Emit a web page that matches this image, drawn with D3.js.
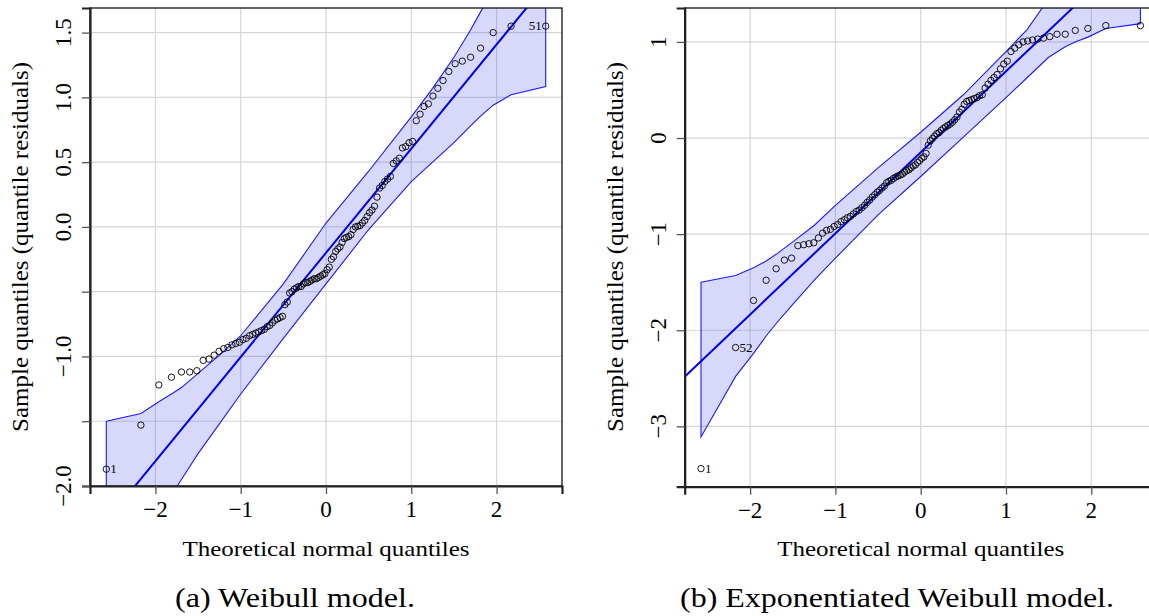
<!DOCTYPE html>
<html>
<head>
<meta charset="utf-8">
<script src="https://cdn.jsdelivr.net/npm/d3@7"></script>
<style>
  body { margin: 0; background: #fff; }
  svg { display: block; }
</style>
</head>
<body>
<svg id="chart" width="1149" height="616"></svg>
<script>
// Theoretical normal quantiles for n = 100 (shared by both panels)
const theoreticalQuantiles = [
  -2.576,-2.170,-1.960,-1.812,-1.695,-1.598,-1.514,-1.440,-1.372,-1.311,
  -1.254,-1.200,-1.150,-1.103,-1.058,-1.015,-0.974,-0.935,-0.896,-0.860,
  -0.824,-0.789,-0.755,-0.722,-0.690,-0.659,-0.628,-0.598,-0.568,-0.539,
  -0.510,-0.482,-0.454,-0.426,-0.399,-0.372,-0.345,-0.319,-0.292,-0.266,
  -0.240,-0.215,-0.189,-0.164,-0.138,-0.113,-0.088,-0.063,-0.038,-0.013,
   0.013, 0.038, 0.063, 0.088, 0.113, 0.138, 0.164, 0.189, 0.215, 0.240,
   0.266, 0.292, 0.319, 0.345, 0.372, 0.399, 0.426, 0.454, 0.482, 0.510,
   0.539, 0.568, 0.598, 0.628, 0.659, 0.690, 0.722, 0.755, 0.789, 0.824,
   0.860, 0.896, 0.935, 0.974, 1.015, 1.058, 1.103, 1.150, 1.200, 1.254,
   1.311, 1.372, 1.440, 1.514, 1.598, 1.695, 1.812, 1.960, 2.170, 2.576
];

// Sorted quantile residuals, Weibull model
const weibullResiduals = [
  -1.87,-1.53,-1.22,-1.16,-1.12,-1.12,-1.11,-1.03,-1.02,-0.99,
  -0.96,-0.94,-0.93,-0.91,-0.90,-0.89,-0.87,-0.86,-0.84,-0.83,
  -0.82,-0.81,-0.80,-0.79,-0.77,-0.76,-0.74,-0.72,-0.71,-0.70,
  -0.69,-0.60,-0.58,-0.51,-0.50,-0.48,-0.47,-0.46,-0.46,-0.44,
  -0.43,-0.43,-0.42,-0.41,-0.40,-0.40,-0.39,-0.38,-0.37,-0.36,
  -0.33,-0.31,-0.25,-0.23,-0.19,-0.17,-0.155,-0.12,-0.09,-0.08,
  -0.075,-0.06,-0.02,0.00,0.005,0.01,0.03,0.05,0.08,0.11,
   0.13,0.16,0.23,0.30,0.32,0.35,0.37,0.39,0.49,0.51,
   0.53,0.61,0.62,0.65,0.66,0.82,0.87,0.93,0.95,1.01,
   1.07,1.13,1.20,1.26,1.28,1.31,1.38,1.50,1.55,1.55
];

// Sorted quantile residuals, exponentiated Weibull model
const expWeibullResiduals = [
  -3.44,-2.18,-1.69,-1.48,-1.36,-1.27,-1.25,-1.12,-1.11,-1.10,
  -1.09,-1.04,-0.99,-0.96,-0.95,-0.92,-0.90,-0.87,-0.85,-0.83,
  -0.815,-0.79,-0.765,-0.75,-0.725,-0.70,-0.67,-0.645,-0.615,-0.59,
  -0.565,-0.545,-0.52,-0.50,-0.465,-0.45,-0.44,-0.42,-0.405,-0.395,
  -0.385,-0.375,-0.355,-0.34,-0.33,-0.31,-0.29,-0.28,-0.255,-0.235,
  -0.21,-0.195,-0.16,-0.075,-0.03,-0.005,0.02,0.045,0.055,0.08,
   0.10,0.115,0.13,0.145,0.165,0.19,0.22,0.27,0.30,0.35,
   0.38,0.39,0.40,0.41,0.42,0.44,0.45,0.52,0.56,0.60,
   0.63,0.66,0.72,0.77,0.80,0.90,0.935,0.97,1.00,1.01,
   1.02,1.03,1.04,1.055,1.08,1.08,1.12,1.14,1.17,1.17
];

// Confidence envelope, evaluated at these theoretical quantiles
const bandQuantiles = [-2.576,-2.170,-1.960,-1.812,-1.695,-1.500,-1.250,-1.000,-0.500,0.000,
                        0.500, 1.000, 1.250, 1.500, 1.695, 1.812, 1.960, 2.170, 2.576];
const weibullBandUpper = [-1.50,-1.44,-1.35,-1.29,-1.24,-1.13,-0.99,-0.84,-0.44,0.03,
                           0.43,0.85,1.07,1.31,1.52,1.66,1.83,2.10,2.65];
const weibullBandLower = [-2.95,-2.45,-2.23,-2.07,-1.95,-1.75,-1.52,-1.29,-0.86,-0.44,
                          -0.02,0.35,0.50,0.65,0.78,0.855,0.94,1.02,1.083];
const expBandUpper = [-1.50,-1.43,-1.35,-1.28,-1.21,-1.08,-0.91,-0.70,-0.31,0.06,
                       0.45,0.90,1.13,1.45,1.68,1.83,2.00,2.30,2.80];
const expBandLower = [-3.11,-2.48,-2.24,-2.06,-1.93,-1.73,-1.48,-1.25,-0.80,-0.40,
                       0.01,0.42,0.63,0.84,0.95,1.00,1.05,1.14,1.19];

// Reference lines: [intercept, slope]
const weibullLine = [-0.200, 0.804];
const expWeibullLine = [-0.149, 0.8435];

// Axis ticks
const xTicks = [-2, -1, 0, 1, 2];
const xTickLabels = ["\u22122", "\u22121", "0", "1", "2"];
const weibullYTicks = [-2.0, -1.5, -1.0, -0.5, 0.0, 0.5, 1.0, 1.5];
const weibullYTickLabels = ["\u22122.0", "", "\u22121.0", "", "0.0", "0.5", "1.0", "1.5"];
const expYTicks = [-3, -2, -1, 0, 1];
const expYTickLabels = ["\u22123", "\u22122", "\u22121", "0", "1"];

// Point labels: [index, text, side]
const weibullIds = [[0, "1", "right"], [99, "51", "left"]];
const expWeibullIds = [[0, "1", "right"], [1, "52", "right"]];

const FONT = "'Liberation Serif', 'Times New Roman', Times, serif";
const svg = d3.select("#chart");

function label(sel) {
  return sel.style("font-family", FONT).attr("fill", "#000");
}

function drawPanel(cfg) {
  const x = d3.scaleLinear().domain([-2.767, 2.767]).range([cfg.left, cfg.left + 472]);
  const y = d3.scaleLinear().domain(cfg.yDomain).range([cfg.bottom, cfg.top]);
  const g = svg.append("g");
  const clipId = "clip-" + cfg.name;
  svg.append("clipPath").attr("id", clipId)
    .append("rect")
    .attr("x", cfg.left).attr("y", cfg.top)
    .attr("width", 472).attr("height", cfg.bottom - cfg.top);

  // grid
  const grid = g.append("g").attr("stroke", "#d6d6d6").attr("stroke-width", 1.2);
  grid.selectAll("line.v").data(xTicks).join("line")
    .attr("x1", d => x(d)).attr("x2", d => x(d))
    .attr("y1", cfg.top).attr("y2", cfg.bottom);
  grid.selectAll("line.h").data(cfg.yTicks).join("line")
    .attr("y1", d => y(d)).attr("y2", d => y(d))
    .attr("x1", cfg.left).attr("x2", cfg.left + 472);

  const inner = g.append("g").attr("clip-path", `url(#${clipId})`);

  // envelope
  const bandData = bandQuantiles.map((q, i) => ({ q, lo: cfg.lower[i], hi: cfg.upper[i] }));
  const area = d3.area().x(d => x(d.q)).y0(d => y(d.lo)).y1(d => y(d.hi));
  inner.append("path").datum(bandData)
    .attr("d", area)
    .attr("fill", "rgba(60,60,230,0.2)")
    .attr("stroke", "#1a1aff")
    .attr("stroke-width", 1.1);

  // reference line
  const xs = x.domain();
  const line = d3.line().x(d => x(d)).y(d => y(cfg.line[0] + cfg.line[1] * d));
  inner.append("path").datum(xs)
    .attr("d", line)
    .attr("fill", "none")
    .attr("stroke", "#0000ee")
    .attr("stroke-width", 2);

  // points
  const pts = theoreticalQuantiles.map((q, i) => ({ q, r: cfg.resid[i] }));
  inner.selectAll("circle").data(pts).join("circle")
    .attr("cx", d => x(d.q)).attr("cy", d => y(d.r))
    .attr("r", 3.2)
    .attr("fill", "none")
    .attr("stroke", "#000")
    .attr("stroke-width", 0.9);

  // identified points
  g.selectAll("text.id").data(cfg.ids).join("text")
    .attr("x", d => x(theoreticalQuantiles[d[0]]) + (d[2] === "right" ? 4 : -4))
    .attr("y", d => y(cfg.resid[d[0]]) + 4)
    .attr("text-anchor", d => d[2] === "right" ? "start" : "end")
    .attr("font-size", 13)
    .call(label)
    .text(d => d[1]);

  // box
  g.append("rect")
    .attr("x", cfg.left).attr("y", cfg.top)
    .attr("width", 472).attr("height", cfg.bottom - cfg.top)
    .attr("fill", "none").attr("stroke", "#111").attr("stroke-width", 1.3);

  // axes (ticks only; labels drawn rotated / separately)
  const xAxis = d3.axisBottom(x).tickValues(xTicks).tickSize(8).tickFormat("");
  const xa = g.append("g").attr("transform", `translate(0,${cfg.bottom})`).call(xAxis);
  xa.select(".domain").attr("stroke", "#222").attr("stroke-width", 2.2);
  xa.selectAll(".tick line").attr("stroke", "#555").attr("stroke-width", 1.3);

  const yAxis = d3.axisLeft(y).tickValues(cfg.yTicks).tickSize(8).tickFormat("");
  const ya = g.append("g").attr("transform", `translate(${cfg.left},0)`).call(yAxis);
  ya.select(".domain").attr("stroke", "#222").attr("stroke-width", 2.2);
  ya.selectAll(".tick line").attr("stroke", "#555").attr("stroke-width", 1.3);

  // x tick labels
  g.selectAll("text.xt").data(xTicks).join("text")
    .attr("x", d => x(d)).attr("y", cfg.bottom + 31)
    .attr("text-anchor", "middle")
    .attr("font-size", 23)
    .call(label)
    .text((d, i) => xTickLabels[i]);

  // y tick labels (rotated)
  g.selectAll("text.yt").data(cfg.yTicks).join("text")
    .attr("transform", d => `translate(${cfg.left - 19},${y(d)}) rotate(-90)`)
    .attr("text-anchor", "middle")
    .attr("font-size", 23)
    .call(label)
    .text((d, i) => cfg.yTickLabels[i]);

  // axis titles
  g.append("text")
    .attr("transform", `translate(${cfg.left - 62},247) rotate(-90)`)
    .attr("text-anchor", "middle")
    .attr("font-size", 23)
    .attr("textLength", 370).attr("lengthAdjust", "spacingAndGlyphs")
    .call(label)
    .text("Sample quantiles (quantile residuals)");

  g.append("text")
    .attr("x", x(0)).attr("y", 556)
    .attr("text-anchor", "middle")
    .attr("font-size", 22)
    .attr("textLength", 287).attr("lengthAdjust", "spacingAndGlyphs")
    .call(label)
    .text("Theoretical normal quantiles");

  g.append("text")
    .attr("x", cfg.captionX).attr("y", 607)
    .attr("text-anchor", "middle")
    .attr("font-size", 28)
    .attr("textLength", cfg.captionLen).attr("lengthAdjust", "spacingAndGlyphs")
    .call(label)
    .text(cfg.caption);
}

drawPanel({
  name: "a", left: 90, top: 8, bottom: 486,
  yDomain: [-2.0, 1.69],
  yTicks: weibullYTicks, yTickLabels: weibullYTickLabels,
  resid: weibullResiduals, upper: weibullBandUpper, lower: weibullBandLower,
  line: weibullLine, ids: weibullIds,
  caption: "(a) Weibull model.", captionX: 295, captionLen: 240
});

drawPanel({
  name: "b", left: 684.7, top: 8, bottom: 486.7,
  yDomain: [-3.628, 1.353],
  yTicks: expYTicks, yTickLabels: expYTickLabels,
  resid: expWeibullResiduals, upper: expBandUpper, lower: expBandLower,
  line: expWeibullLine, ids: expWeibullIds,
  caption: "(b) Exponentiated Weibull model.", captionX: 897, captionLen: 434
});
</script>
</body>
</html>
